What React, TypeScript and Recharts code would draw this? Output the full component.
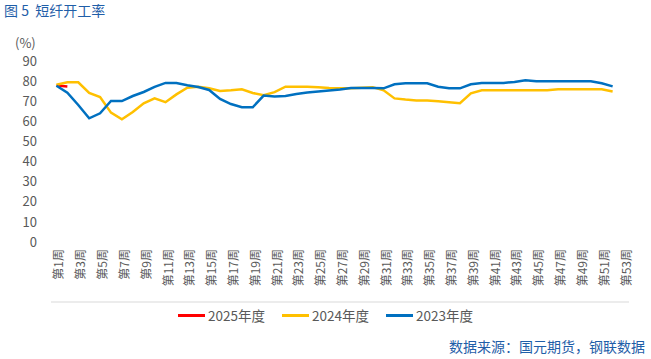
import React from "react";
import { LineChart, Line, XAxis, YAxis } from "recharts";

const weeks: number[] = Array.from({ length: 53 }, (_, i) => i + 1);

const series2025: (number | null)[] = [77.8, 77.3];

const series2024: (number | null)[] = [
  78.2, 79.4, 79.4, 74.1, 72.1, 64.3, 61.0, 64.6, 69.0, 71.4,
  69.5, 73.4, 76.7, 77.2, 76.4, 75.1, 75.4, 75.9, 74.1, 73.0,
  74.5, 77.2, 77.2, 77.2, 77.0, 76.6, 76.4, 76.4, 76.7, 77.0,
  75.4, 71.4, 70.8, 70.4, 70.4, 70.0, 69.5, 69.0, 73.9, 75.4,
  75.4, 75.4, 75.4, 75.4, 75.4, 75.4, 75.9, 75.9, 75.9, 75.9,
  75.9, 74.8,
];

const series2023: (number | null)[] = [
  77.7, 74.2, 68.1, 61.5, 64.0, 70.1, 70.1, 72.6, 74.6, 77.1,
  79.1, 79.1, 77.9, 77.1, 75.6, 71.1, 68.6, 67.0, 67.0, 72.8,
  72.4, 72.6, 73.6, 74.3, 74.8, 75.3, 75.8, 76.6, 76.6, 76.6,
  76.4, 78.4, 78.9, 78.9, 78.9, 77.2, 76.4, 76.4, 78.4, 79.1,
  79.1, 79.1, 79.6, 80.4, 79.9, 79.9, 79.9, 79.9, 79.9, 79.9,
  78.9, 77.4,
];

const yTicks: number[] = [0, 10, 20, 30, 40, 50, 60, 70, 80, 90];
const labelWeeks: number[] = weeks.filter((w) => w % 2 === 1);
const boundaryTicks: number[] = [0.5, ...weeks.map((w) => w + 0.5)];

const legendItems = [
  { name: "2025年度", color: "#FF0000" },
  { name: "2024年度", color: "#FFC000" },
  { name: "2023年度", color: "#0070C0" },
];

const titleText = "图 5  短纤开工率";
const unitText = "(%)";
const sourceText = "数据来源：国元期货，钢联数据";

const data = weeks.map((w, i) => ({
  week: w,
  y2025: series2025[i] ?? null,
  y2024: series2024[i] ?? null,
  y2023: series2023[i] ?? null,
}));

const FONT = "'Noto Sans CJK SC', 'Noto Sans', sans-serif";
const GREY = "#595959";

const WeekTick = (props: any) => {
  const { x, y, payload } = props;
  const tx = x + 1.5;
  const ty = y + 7;
  return (
    <text
      x={tx}
      y={ty}
      transform={`rotate(-90, ${tx}, ${ty})`}
      textAnchor="end"
      dominantBaseline="central"
      fontSize={12}
      fontFamily={FONT}
      fill={GREY}
    >
      {`第${payload.value}周`}
    </text>
  );
};

export default function App() {
  return (
    <div
      style={{
        position: "absolute",
        left: 0,
        top: 0,
        width: 651,
        height: 359,
        background: "#fff",
        fontFamily: FONT,
      }}
    >
      <div
        style={{
          position: "absolute",
          left: 4,
          top: 1,
          fontSize: 14,
          color: "#1F5EA8",
          whiteSpace: "pre",
          lineHeight: "18px",
        }}
      >
        {titleText}
      </div>
      <div
        style={{
          position: "absolute",
          left: 15,
          top: 34,
          fontSize: 13,
          color: GREY,
          lineHeight: "17px",
        }}
      >
        {unitText}
      </div>
      <LineChart
        width={651}
        height={359}
        data={data}
        margin={{ top: 61, right: 22, left: 0, bottom: 52 }}
      >
        <YAxis
          type="number"
          domain={[0, 90]}
          ticks={yTicks}
          interval={0}
          width={51}
          axisLine={false}
          tickLine={false}
          tickSize={0}
          tickMargin={14}
          tick={{ fontSize: 13, fill: GREY, fontFamily: FONT }}
        />
        <XAxis
          xAxisId="marks"
          dataKey="week"
          type="number"
          domain={[0.5, 53.5]}
          ticks={boundaryTicks}
          interval={0}
          height={5}
          tick={false}
          tickSize={5}
          axisLine={{ stroke: "#D9D9D9", strokeWidth: 1 }}
          tickLine={{ stroke: "#D9D9D9", strokeWidth: 1 }}
        />
        <XAxis
          xAxisId="labels"
          dataKey="week"
          type="number"
          domain={[0.5, 53.5]}
          ticks={labelWeeks}
          interval={0}
          height={60}
          axisLine={false}
          tickLine={false}
          tickSize={0}
          tickMargin={0}
          tick={<WeekTick />}
        />
        <Line
          xAxisId="marks"
          dataKey="y2025"
          stroke="#FF0000"
          strokeWidth={2.5}
          dot={false}
          isAnimationActive={false}
          connectNulls={false}
        />
        <Line
          xAxisId="marks"
          dataKey="y2024"
          stroke="#FFC000"
          strokeWidth={2.5}
          dot={false}
          isAnimationActive={false}
        />
        <Line
          xAxisId="marks"
          dataKey="y2023"
          stroke="#0070C0"
          strokeWidth={2.5}
          dot={false}
          isAnimationActive={false}
        />
      </LineChart>
      <div
        style={{
          position: "absolute",
          top: 306,
          left: 178,
          display: "flex",
          alignItems: "center",
          fontSize: 13.5,
          color: GREY,
          lineHeight: "18px",
        }}
      >
        {legendItems.map((it) => (
          <div
            key={it.name}
            style={{
              display: "flex",
              alignItems: "center",
              width: 104,
            }}
          >
            <span
              style={{
                display: "inline-block",
                width: 27,
                height: 3,
                background: it.color,
                marginRight: 3,
              }}
            />
            <span style={{ whiteSpace: "nowrap" }}>{it.name}</span>
          </div>
        ))}
      </div>
      <div
        style={{
          position: "absolute",
          right: 6,
          top: 337,
          fontSize: 14,
          color: "#1F5EA8",
          lineHeight: "18px",
          whiteSpace: "nowrap",
        }}
      >
        {sourceText}
      </div>
    </div>
  );
}
